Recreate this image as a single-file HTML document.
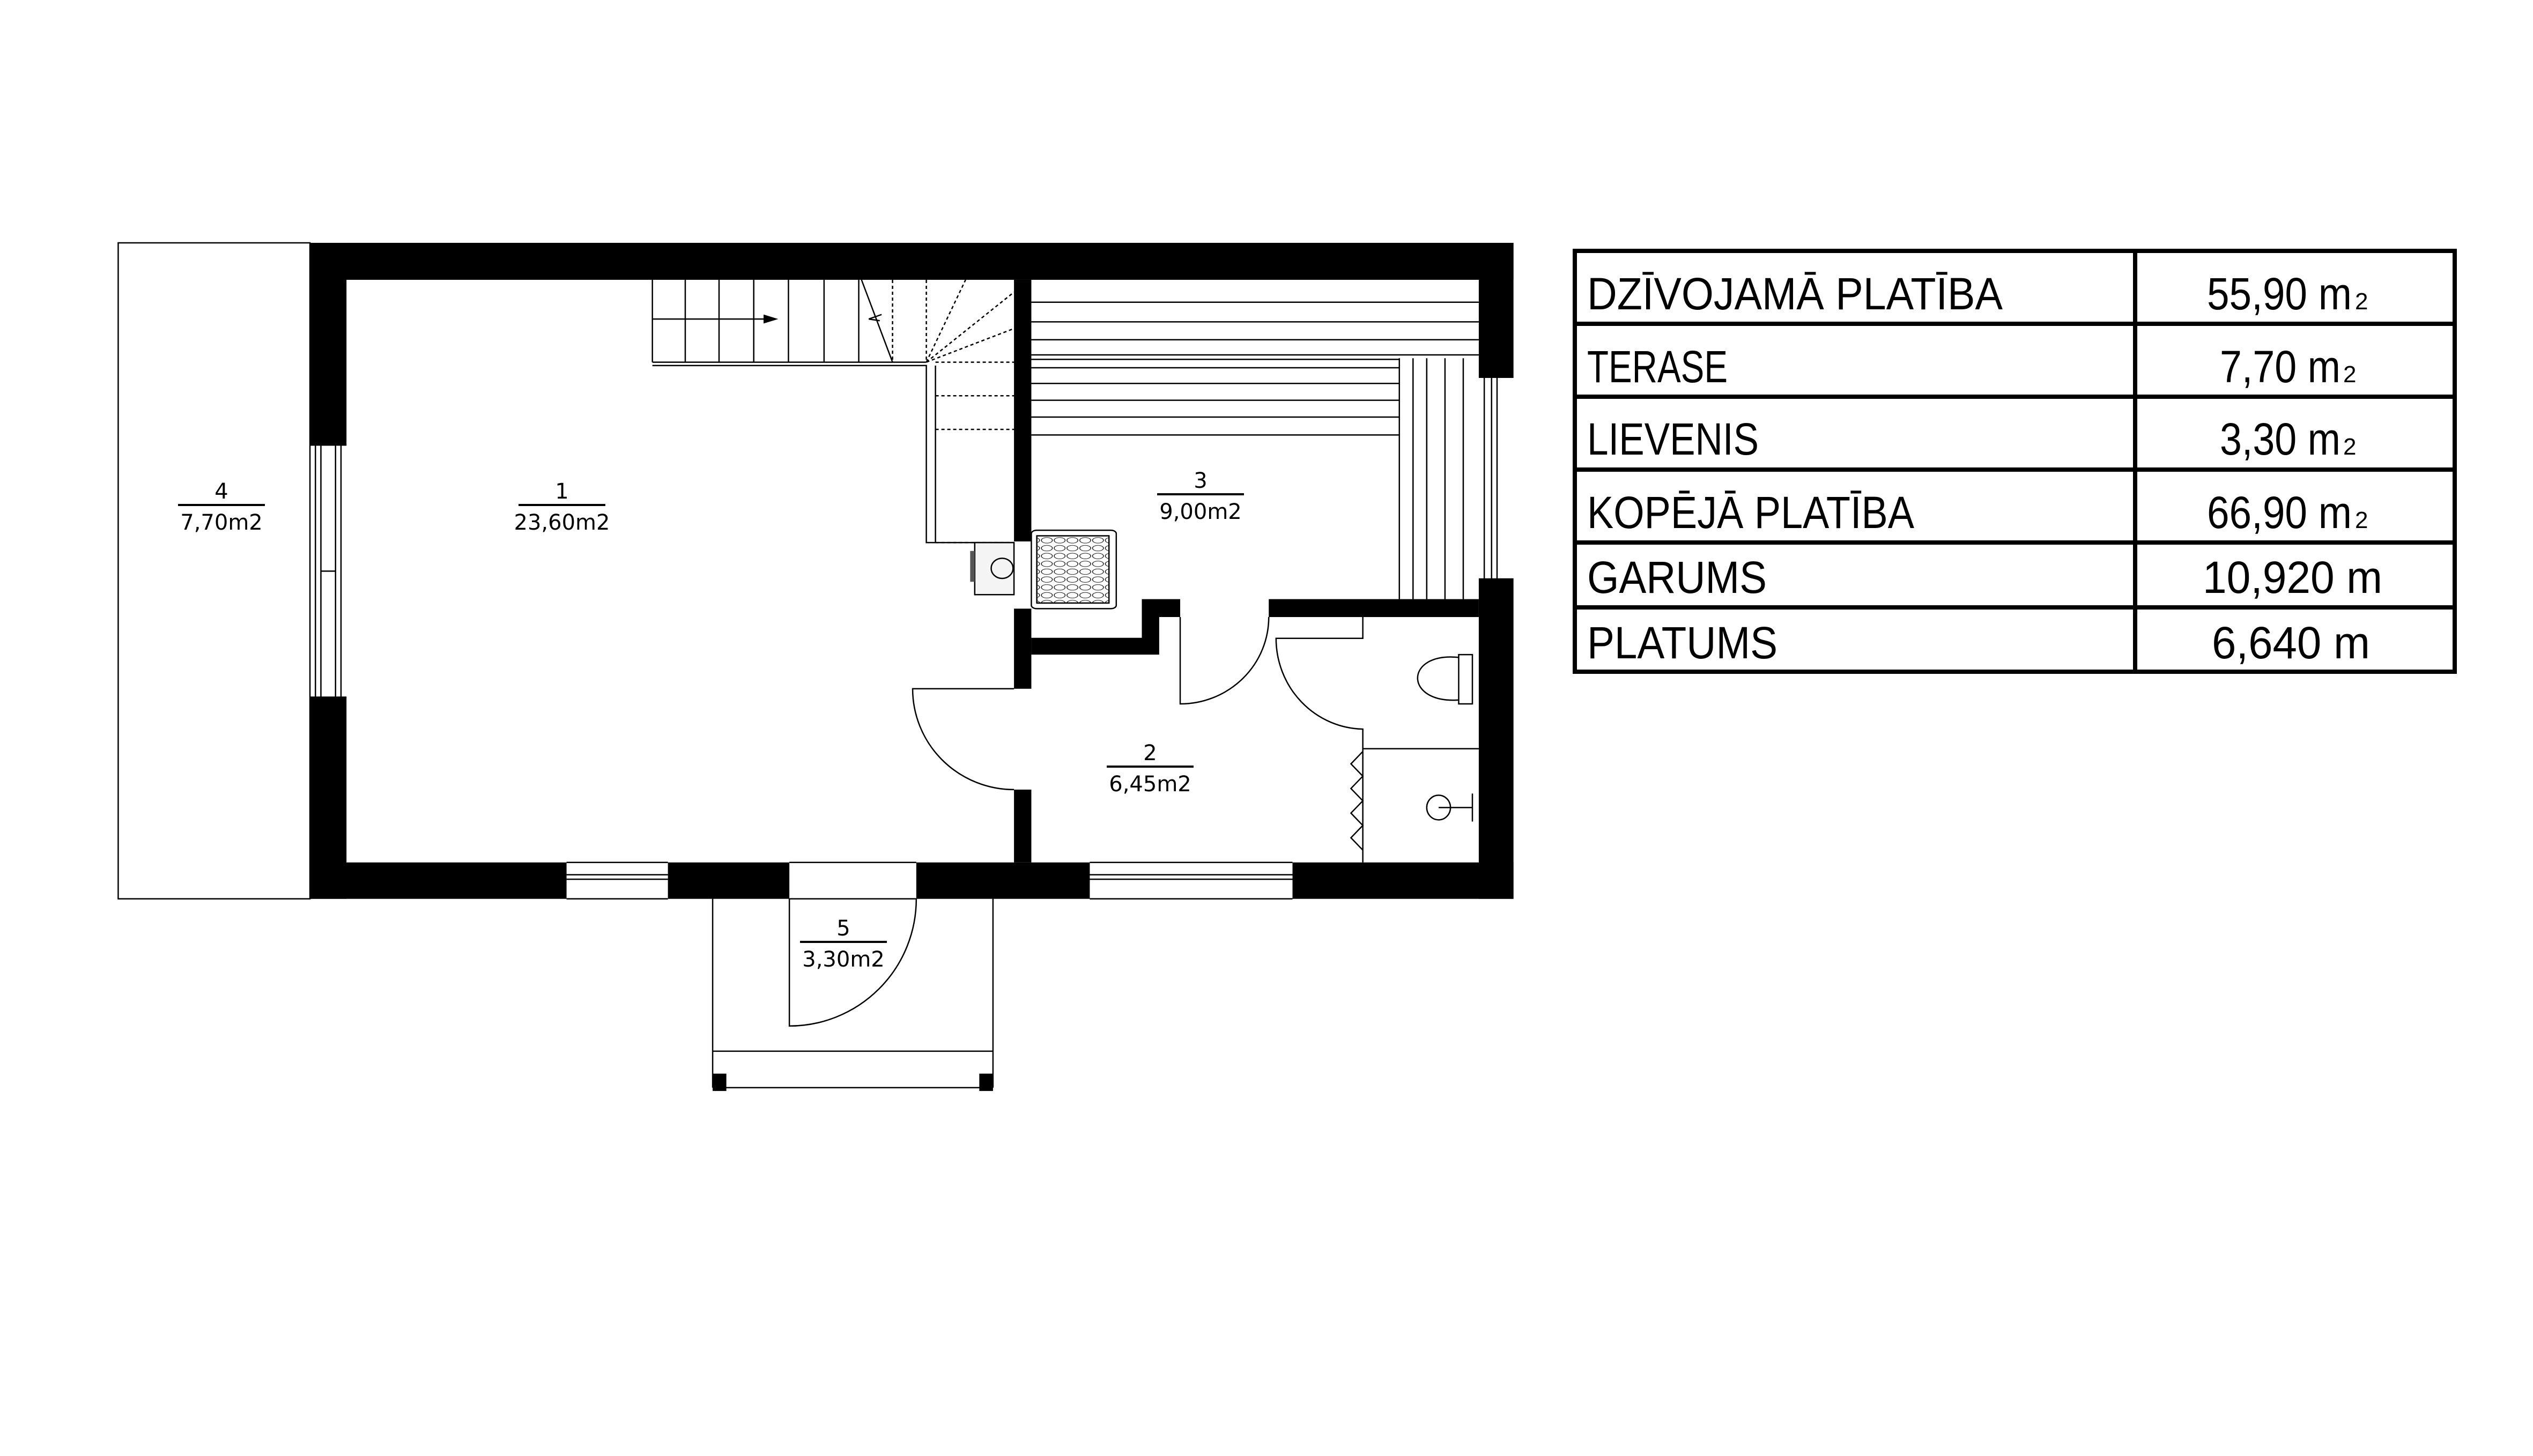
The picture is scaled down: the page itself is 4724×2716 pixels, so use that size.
<!DOCTYPE html>
<html><head><meta charset="utf-8"><style>html,body{margin:0;padding:0;background:#fff}svg{display:block}</style></head>
<body>
<svg width="4724" height="2716" viewBox="0 0 4724 2716" xmlns="http://www.w3.org/2000/svg">
<rect width="4724" height="2716" fill="#fff"/>
<defs><pattern id="st" width="14" height="14" patternUnits="userSpaceOnUse"><ellipse cx="7" cy="7" rx="6" ry="5" fill="none" stroke="#000" stroke-width="0.8"/></pattern></defs>
<g transform="translate(200,430) scale(1.703,1.045)" stroke="#000" fill="none" stroke-width="2.5">
<g>
<rect x="12" y="22" width="210" height="1171" vector-effect="non-scaling-stroke"/>
<g fill="#000" stroke="none">
<rect x="222" y="22" width="1318" height="66"/>
<rect x="222" y="22" width="40" height="361"/>
<rect x="222" y="833" width="40" height="360"/>
<rect x="1502" y="22" width="38" height="240"/>
<rect x="1502" y="622" width="38" height="571"/>
<rect x="222" y="1128" width="281" height="65"/>
<rect x="614" y="1128" width="133" height="65"/>
<rect x="886" y="1128" width="190" height="65"/>
<rect x="1298" y="1128" width="242" height="65"/>
<rect x="993" y="88" width="19" height="467"/>
<rect x="993" y="675" width="19" height="143"/>
<rect x="993" y="998" width="19" height="130"/>
<polygon points="1012,727 1133,727 1133,658 1175,658 1175,690 1152,690 1152,757 1012,757"/>
<rect x="1272" y="658" width="230" height="32"/>
<rect x="663" y="1505" width="15" height="31"/>
<rect x="955" y="1505" width="15" height="31"/>
</g>
<g>
<path d="M228 383V833M234 383V833M250 383V833M256 383V833M222 383H262M222 833H262M234 608H250" vector-effect="non-scaling-stroke"/>
<path d="M1508 262V622M1516 262V622M1522 262V622M1502 262H1540M1502 622H1540" vector-effect="non-scaling-stroke"/>
<path d="M503 1128H614M503 1150H614M503 1158H614M503 1193H614M1076 1128H1298M1076 1150H1298M1076 1158H1298M1076 1193H1298M747 1128H886M747 1193H886" vector-effect="non-scaling-stroke"/>
<path d="M663 1193V1530M970 1193V1530M663 1465H970M663 1530H970" vector-effect="non-scaling-stroke"/>
<path d="M747 1193V1420A139 227 0 0 0 886 1193" vector-effect="non-scaling-stroke"/>
<path d="M993 818H882A111 180 0 0 0 993 998" vector-effect="non-scaling-stroke"/>
<path d="M1175 690V845A97 155 0 0 0 1272 690" vector-effect="non-scaling-stroke"/>
<path d="M1375 690V728H1280A97 162 0 0 0 1375 890V1128M1375 925H1502" vector-effect="non-scaling-stroke"/>
<path d="M1375 930l-13 22 13 22-13 22 13 22-13 22 13 22-13 22 13 22" vector-effect="non-scaling-stroke"/>
<path d="M1480 757H1495V845H1480ZM1480 762C1420 752 1420 845 1480 838" vector-effect="non-scaling-stroke"/>
<ellipse cx="1458" cy="1030" rx="13" ry="22" vector-effect="non-scaling-stroke"/>
<path d="M1458 1030H1495M1495 1005V1055" vector-effect="non-scaling-stroke"/>
<path d="M597 88V235M633 88V235M670 88V235M708 88V235M746 88V235M785 88V235M823 88V235M597 158H720M597 235H897M597 241H897V557H907V241M907 557H993" vector-effect="non-scaling-stroke"/>
<path d="M826 88L860 235M848 150l-14 8 12 3" vector-effect="non-scaling-stroke"/>
<path d="M860 88V235M897 88V235M897 235L940 88M897 235L993 110M897 235L993 175M907 235H993M907 295H993M907 355H993M907 557H993" stroke-dasharray="6,5" vector-effect="non-scaling-stroke"/>
<polygon points="720,152 732,158 720,164" fill="#000"/>
<path d="M1012 128H1502M1012 163H1502M1012 195H1502M1012 222H1502M1012 230H1415M1012 245H1415M1012 273H1415M1012 303H1415M1012 333H1415M1012 365H1415M1415 228V658M1430 228V658M1445 228V658M1465 228V658M1485 228V658" vector-effect="non-scaling-stroke"/>
<rect x="950" y="557" width="43" height="93" fill="#f4f4f4" vector-effect="non-scaling-stroke"/>
<rect x="945" y="572" width="5" height="55" fill="#555" stroke="none"/>
<ellipse cx="980" cy="603" rx="12" ry="18" vector-effect="non-scaling-stroke"/>
<rect x="1012" y="535" width="93" height="140" rx="6" vector-effect="non-scaling-stroke"/>
<rect x="1018" y="545" width="79" height="120" fill="url(#st)" vector-effect="non-scaling-stroke"/>
</g></g></g>
<g font-family="'DejaVu Sans','Liberation Sans',sans-serif" font-size="40" text-anchor="middle" fill="#000">
<text x="413" y="930">4</text><rect x="332" y="940" width="162" height="4"/><text x="413" y="988">7,70m2</text>
<text x="1048" y="930">1</text><rect x="967" y="940" width="162" height="4"/><text x="1048" y="988">23,60m2</text>
<text x="2239" y="910">3</text><rect x="2158" y="920" width="162" height="4"/><text x="2239" y="968">9,00m2</text>
<text x="2145" y="1418">2</text><rect x="2064" y="1428" width="162" height="4"/><text x="2145" y="1476">6,45m2</text>
<text x="1573" y="1745">5</text><rect x="1492" y="1755" width="162" height="4"/><text x="1573" y="1803">3,30m2</text>
</g>
<g stroke="#000" stroke-width="8" fill="none">
<rect x="2937" y="468" width="1641" height="785"/>
<path d="M3982 468V1253M2937 604H4578M2937 740H4578M2937 876H4578M2937 1012H4578M2937 1133H4578"/>
</g>
<g font-family="'Liberation Sans Narrow','Liberation Sans',sans-serif" font-size="84" fill="#000">
<text x="2960" y="577" textLength="775" lengthAdjust="spacingAndGlyphs">DZĪVOJAMĀ PLATĪBA</text>
<text x="2960" y="713" textLength="262" lengthAdjust="spacingAndGlyphs">TERASE</text>
<text x="2960" y="848" textLength="320" lengthAdjust="spacingAndGlyphs">LIEVENIS</text>
<text x="2960" y="985" textLength="610" lengthAdjust="spacingAndGlyphs">KOPĒJĀ PLATĪBA</text>
<text x="2960" y="1106" textLength="335" lengthAdjust="spacingAndGlyphs">GARUMS</text>
<text x="2960" y="1228" textLength="355" lengthAdjust="spacingAndGlyphs">PLATUMS</text>
<text x="4116" y="577" textLength="270" lengthAdjust="spacingAndGlyphs">55,90 m</text><text x="4392" y="577" font-size="44">2</text>
<text x="4140" y="713" textLength="225" lengthAdjust="spacingAndGlyphs">7,70 m</text><text x="4370" y="713" font-size="44">2</text>
<text x="4140" y="848" textLength="225" lengthAdjust="spacingAndGlyphs">3,30 m</text><text x="4370" y="848" font-size="44">2</text>
<text x="4116" y="985" textLength="270" lengthAdjust="spacingAndGlyphs">66,90 m</text><text x="4392" y="985" font-size="44">2</text>
<text x="4108" y="1106" textLength="335" lengthAdjust="spacingAndGlyphs">10,920 m</text>
<text x="4125" y="1228" textLength="295" lengthAdjust="spacingAndGlyphs">6,640 m</text>
</g>
</svg>
</body></html>
